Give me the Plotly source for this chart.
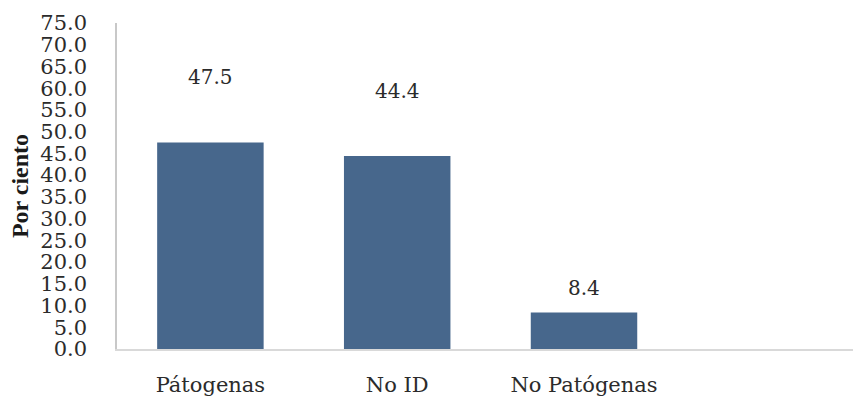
import plotly.graph_objects as go

# Distribución de cepas (%)
categorias = ["Pátogenas", "No ID", "No Patógenas"]
valores = [47.5, 44.4, 8.4]
etiqueta_desplazamiento = [66, 65, 24]  # separación vertical (px) de cada etiqueta sobre su barra
ticks_y = [i * 5 for i in range(16)]

color_barra = "#47678C"
color_texto = "#2b2b2b"

fig = go.Figure()
fig.add_trace(go.Bar(
    x=categorias,
    y=valores,
    marker=dict(color=color_barra, line=dict(width=0)),
    hoverinfo="x+y",
))

for cat, val, dy in zip(categorias, valores, etiqueta_desplazamiento):
    fig.add_annotation(
        x=cat, y=val, text=f"{val:.1f}", showarrow=False,
        yanchor="middle", yshift=dy,
        font=dict(family="DejaVu Serif", size=20, color=color_texto),
    )

fig.update_layout(
    width=853, height=400,
    margin=dict(l=117, r=0, t=23, b=51),
    paper_bgcolor="white", plot_bgcolor="white",
    bargap=0.43,
    showlegend=False,
    xaxis=dict(
        type="category",
        range=[-0.5, 3.44],
        showgrid=False,
        showline=True, linecolor="#d9d9d9", linewidth=1.5,
        ticks="", ticklabelstandoff=16,
        tickfont=dict(family="DejaVu Serif", size=21, color=color_texto),
        zeroline=False,
    ),
    yaxis=dict(
        range=[0, 75],
        tickvals=ticks_y,
        ticktext=[f"{v:.1f}" for v in ticks_y],
        showgrid=False,
        showline=True, linecolor="#c8c8c8", linewidth=1.5,
        ticks="", ticklabelstandoff=24,
        tickfont=dict(family="DejaVu Serif", size=21, color=color_texto),
        zeroline=False,
        title=dict(
            text="<b>Por ciento</b>",
            font=dict(family="Liberation Serif", size=24, color="#1a1a1a"),
            standoff=5,
        ),
    ),
)

fig.write_html("out.html")
